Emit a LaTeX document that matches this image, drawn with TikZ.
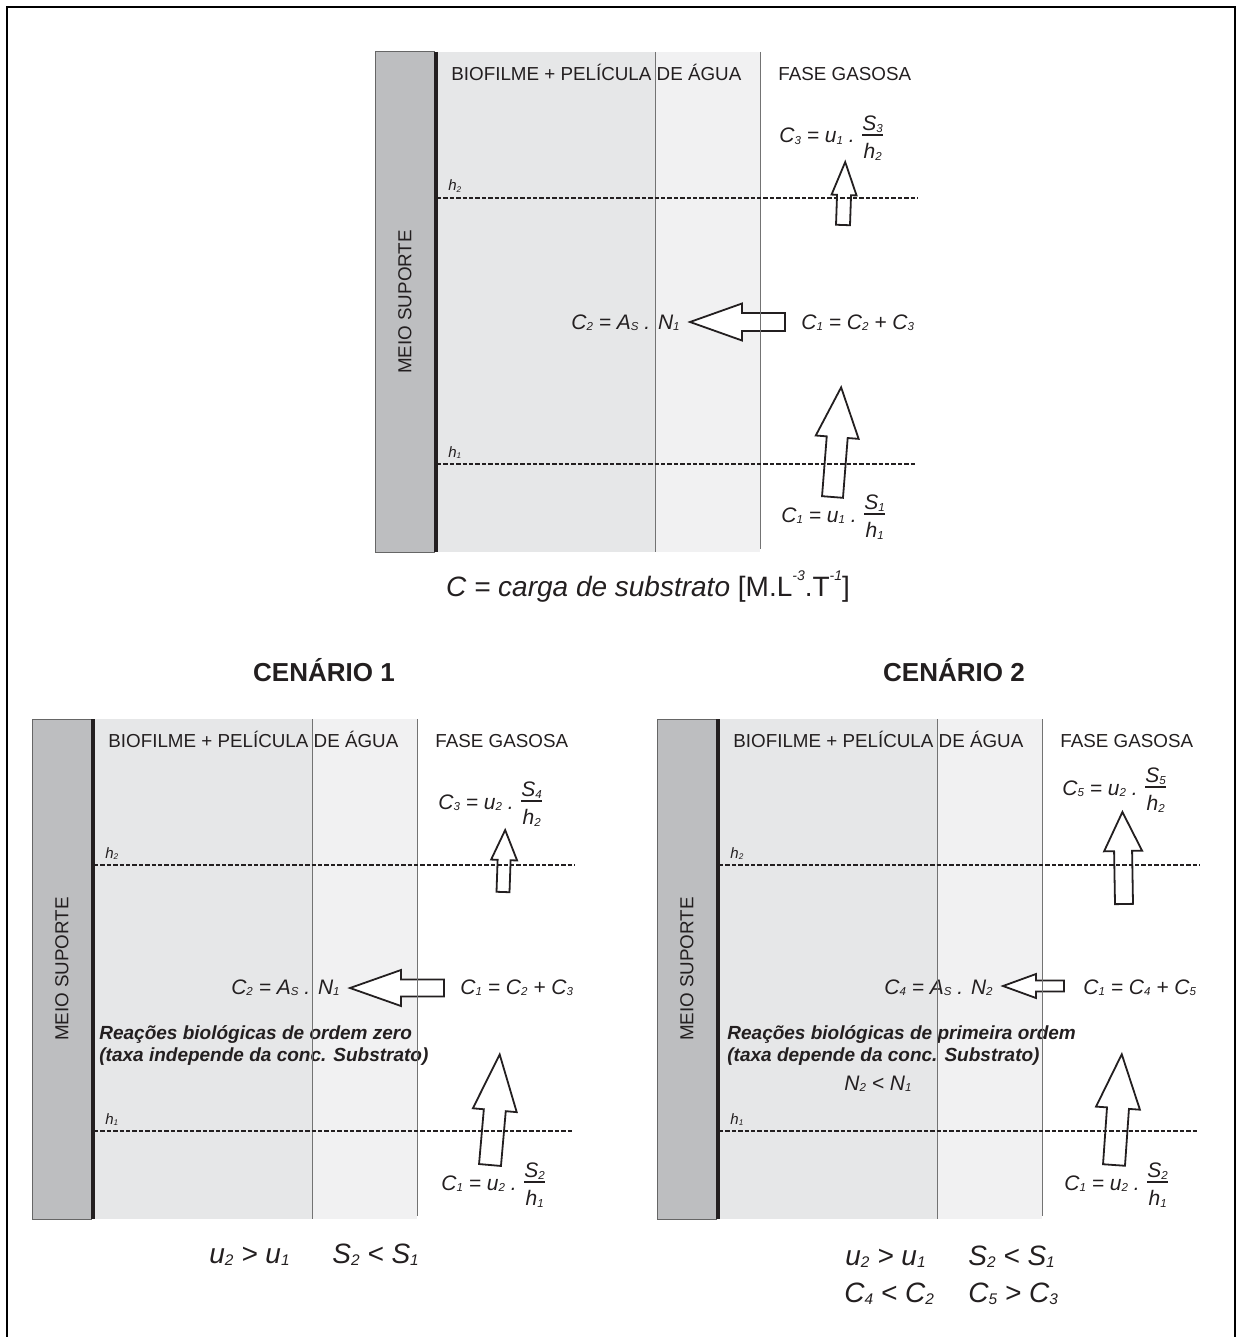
\documentclass[tikz,border=0pt]{standalone}
\usepackage{fontspec}
\setmainfont{Liberation Sans}
\usepackage{graphicx}
\usetikzlibrary{positioning}
\definecolor{suporte}{RGB}{189,190,192}
\definecolor{biofilme}{RGB}{230,231,232}
\definecolor{agua}{RGB}{241,241,242}
\definecolor{tinta}{RGB}{35,31,32}
\pgfdeclarelayer{front}
\pgfsetlayers{main,front}
\newcommand{\ix}[1]{\raisebox{-.15ex}{\scalebox{.55}{#1}}}
\newcommand{\ex}[1]{\raisebox{1.05ex}{\scalebox{.5}{\itshape #1}}}
\newcommand{\frc}[2]{\raisebox{-7.8pt}{\begin{tabular}[b]{@{}c@{}}#1\\[-1.6pt]\hline\rule{0pt}{11.5pt}#2\end{tabular}}}
\setlength{\arrayrulewidth}{.6pt}
\tikzset{
  rotulo/.style={font=\fontsize{9.4}{11}\selectfont,text=tinta,inner sep=0pt},
  hrot/.style={font=\fontsize{7.5}{9}\selectfont\itshape,text=tinta,inner sep=0pt,anchor=base west},
  eq/.style={font=\fontsize{10.5}{12}\selectfont\itshape,text=tinta,inner sep=0pt},
  reacao/.style={font=\fontsize{9.5}{11}\selectfont\bfseries\itshape,text=tinta,inner sep=0pt,anchor=base west},
  rodape/.style={font=\fontsize{14}{16}\selectfont\itshape,text=tinta,inner sep=0pt,anchor=base west},
  titulo/.style={font=\fontsize{13}{15}\selectfont\bfseries,text=tinta,inner sep=0pt,anchor=base},
  divisa/.style={draw=black!55,line width=.45pt},
  nivel/.style={draw=tinta,line width=.9pt,dash pattern=on 2.2pt off 1pt},
  seta/.style={draw=tinta,fill=white,line width=.9pt,line join=miter},
  % panel: support, biofilm, water film, gas phase
  pics/panel/.style={code={
    \fill[suporte,draw=black!60,line width=.5pt] (0,0) rectangle (59,500);
    \fill[biofilme] (61,0) rectangle (280,500);
    \fill[agua] (280,0) rectangle (385,500);
    \draw[line width=1.8pt,tinta] (61,0) -- (61,500);
    \node[rotulo,anchor=base west] (-bio) at (76,28.7) {BIOFILME + PELÍCULA DE ÁGUA};
    \node[rotulo,anchor=base west] (-gas) at (403,28.7) {FASE GASOSA};
    \node[rotulo,rotate=90] (-meio) at (30,250) {MEIO SUPORTE};
    \node[hrot] (-h2) at (73,139) {h\ix2};
    \node[hrot] (-h1) at (73,405) {h\ix1};
    \begin{pgfonlayer}{front}
      \draw[divisa] (280,0) -- (280,500) (385,0) -- (385,497);
      \draw[nivel] (62,146) -- (543,146);
      \draw[nivel] (62,412) -- (541,412);
    \end{pgfonlayer}
  }},
  % block arrow: length, head length, head half width, shaft half width
  pics/fluxo/.style n args={4}{code={
    \draw[seta] (0,-#4) -- ({#1-#2},-#4) -- ({#1-#2},-#3) -- (#1,0)
      -- ({#1-#2},#3) -- ({#1-#2},#4) -- (0,#4) -- cycle;
  }},
}

\begin{document}
\begin{tikzpicture}[x=.5pt,y=-.5pt]
\useasboundingbox (0,0) rectangle (1237,1337);
\draw[line width=1.2pt] (7,1345) |- (1235,7) -- (1235,1345);

% top
\pic (top) at (375,52) {panel};
\pic[shift={(843,225)},rotate=88] {fluxo={63}{33}{12.5}{7}};
\pic[shift={(785,322)},rotate=180] {fluxo={95}{52}{18.5}{9}};
\pic[shift={(832.5,497)},rotate=85.5] {fluxo={110}{50}{21.5}{10.5}};
\node[eq,anchor=base west] (topc3) at (779,143) {C\ix3 = u\ix1 . \frc{S\ix3}{h\ix2}};
\node[eq,anchor=base east] (topc2) at (680,329) {C\ix2 = A\ix{S} . N\ix1};
\node[eq,anchor=base west] (topc1) at (801,329) {C\ix1 = C\ix2 + C\ix3};
\node[eq,anchor=base west] (topin) at (781,522) {C\ix1 = u\ix1 . \frc{S\ix1}{h\ix1}};
\node[rodape,anchor=base] (carga) at (648,596) {C = carga de substrato \upshape[M.L\ex{-3}.T\ex{-1}]};

% cenario 1
\node[titulo] (cen1) at (324,681) {CENÁRIO 1};
\pic (um) at (32,719) {panel};
\pic[shift={(503,892)},rotate=88] {fluxo={62}{30}{13}{6.5}};
\pic[shift={(444,988)},rotate=180] {fluxo={94}{51}{18}{8.5}};
\pic[shift={(490,1165)},rotate=85] {fluxo={111}{56}{22}{11}};
\node[eq,anchor=base west] (umc3) at (438,809) {C\ix3 = u\ix2 . \frc{S\ix4}{h\ix2}};
\node[eq,anchor=base east] (umc2) at (340,994) {C\ix2 = A\ix{S} . N\ix1};
\node[eq,anchor=base west] (umc1) at (460,994) {C\ix1 = C\ix2 + C\ix3};
\node[reacao] (umr1) at (99,1039) {Reações biológicas de ordem zero};
\node[reacao] (umr2) at (99,1061) {(taxa independe da conc. Substrato)};
\node[eq,anchor=base west] (umin) at (441,1190) {C\ix1 = u\ix2 . \frc{S\ix2}{h\ix1}};
\node[rodape] (umu) at (209,1263) {u\ix2 > u\ix1};
\node[rodape] (ums) at (332,1263) {S\ix2 < S\ix1};

% cenario 2
\node[titulo] (cen2) at (954,681) {CENÁRIO 2};
\pic (dois) at (657,719) {panel};
\pic[shift={(1124,904)},rotate=91] {fluxo={92}{39}{19}{9}};
\pic[shift={(1064,986)},rotate=180] {fluxo={61}{33}{12}{5.5}};
\pic[shift={(1114,1165)},rotate=86] {fluxo={111}{54}{22}{11}};
\node[eq,anchor=base west] (doisc5) at (1062,795) {C\ix5 = u\ix2 . \frc{S\ix5}{h\ix2}};
\node[eq,anchor=base east] (doisc4) at (993,994) {C\ix4 = A\ix{S} . N\ix2};
\node[eq,anchor=base west] (doisc1) at (1083,994) {C\ix1 = C\ix4 + C\ix5};
\node[reacao] (doisr1) at (727,1039) {Reações biológicas de primeira ordem};
\node[reacao] (doisr2) at (727,1061) {(taxa depende da conc. Substrato)};
\node[eq,anchor=base west] (doisn) at (844,1090) {N\ix2 < N\ix1};
\node[eq,anchor=base west] (doisin) at (1064,1190) {C\ix1 = u\ix2 . \frc{S\ix2}{h\ix1}};
\node[rodape] (doisu) at (845,1265) {u\ix2 > u\ix1};
\node[rodape] (doiss) at (968,1265) {S\ix2 < S\ix1};
\node[rodape] (doisc) at (844,1302) {C\ix4 < C\ix2};
\node[rodape] (doisd) at (968,1302) {C\ix5 > C\ix3};
\end{tikzpicture}
\end{document}
